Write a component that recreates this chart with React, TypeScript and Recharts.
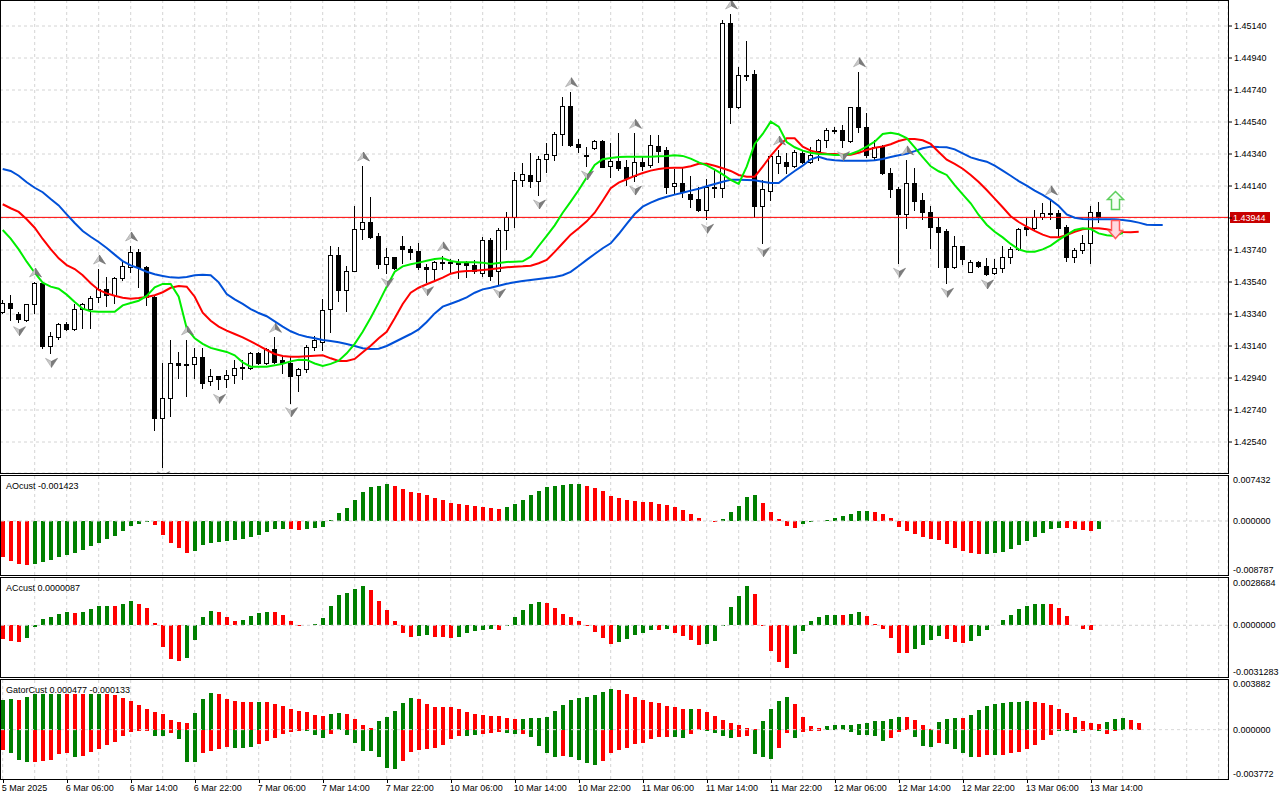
import React from 'react';
import { ComposedChart, Bar, Line, Scatter, XAxis, YAxis, CartesianGrid, ReferenceLine } from 'recharts';

const FONT = '"Liberation Sans", Arial, sans-serif';
const FS = 9;
const GREEN = '#008000';
const RED = '#ff0000';
const GRID = '#d4d4d4';

// hourly candles, one per bar index
const opens = [
  1.43354, 1.43407, 1.4334, 1.43303, 1.43401, 1.43532, 1.43142, 1.43198, 1.43278, 1.43246,
  1.43369, 1.43369, 1.43444, 1.43494, 1.43459, 1.43563, 1.43636, 1.43726, 1.43636, 1.43448,
  1.42692, 1.42813, 1.43032, 1.43026, 1.43026, 1.43073, 1.42921, 1.42954, 1.42932, 1.42959,
  1.43007, 1.43001, 1.43094, 1.43032, 1.43121, 1.43053, 1.43032, 1.42957, 1.42994, 1.43136,
  1.43167, 1.43369, 1.43709, 1.4349, 1.43611, 1.43869, 1.43913, 1.43828, 1.43652, 1.43694,
  1.43765, 1.43744, 1.43732, 1.43632, 1.43619, 1.43665, 1.43663, 1.43663, 1.43657, 1.43646,
  1.43598, 1.43803, 1.43611, 1.43865, 1.43944, 1.44178, 1.44209, 1.44173, 1.44307, 1.44334,
  1.44465, 1.4464, 1.44401, 1.44334, 1.44376, 1.44421, 1.44265, 1.44296, 1.44261, 1.44203,
  1.44288, 1.44271, 1.4439, 1.44365, 1.4414, 1.44161, 1.4409, 1.44059, 1.4399, 1.44136,
  1.44126, 1.45157, 1.44632, 1.44834, 1.4484, 1.44017, 1.44111, 1.44282, 1.4429, 1.44267,
  1.44348, 1.44292, 1.44361, 1.44428, 1.4449, 1.44489, 1.44423, 1.44632, 1.44511, 1.44319,
  1.44386, 1.44219, 1.44119, 1.43965, 1.44161, 1.44053, 1.43978, 1.43882, 1.43859, 1.43632,
  1.43765, 1.43604, 1.43663, 1.4364, 1.43594, 1.43626, 1.43698, 1.43744, 1.43886, 1.43876,
  1.43944, 1.43969, 1.43973, 1.43886, 1.43694, 1.4374, 1.43782, 1.43979,
];
const highs = [
  1.43428, 1.43459, 1.43351, 1.43405, 1.4354, 1.43535, 1.43229, 1.43286, 1.43292, 1.43403,
  1.43411, 1.43453, 1.43621, 1.43573, 1.4357, 1.43678, 1.43765, 1.43744, 1.4364, 1.4345,
  1.43032, 1.43178, 1.43104, 1.43178, 1.43126, 1.43129, 1.42996, 1.42955, 1.4299, 1.43053,
  1.43053, 1.43104, 1.43104, 1.43126, 1.43194, 1.43073, 1.43073, 1.43001, 1.43146, 1.43203,
  1.43432, 1.43765, 1.43761, 1.4364, 1.44017, 1.44265, 1.44073, 1.43844, 1.43751, 1.43698,
  1.43828, 1.43765, 1.43786, 1.43652, 1.43673, 1.43703, 1.43682, 1.43682, 1.43673, 1.43678,
  1.43823, 1.43813, 1.43876, 1.43979, 1.44229, 1.44286, 1.44344, 1.44328, 1.44407, 1.44479,
  1.44694, 1.44729, 1.44432, 1.44382, 1.44425, 1.44425, 1.44407, 1.44469, 1.44303, 1.44469,
  1.44323, 1.44459, 1.44459, 1.44386, 1.44244, 1.44251, 1.44203, 1.44136, 1.44184, 1.4424,
  1.45178, 1.45215, 1.44886, 1.45046, 1.44865, 1.44178, 1.44334, 1.44365, 1.44344, 1.44365,
  1.44361, 1.44386, 1.44432, 1.44501, 1.44511, 1.44521, 1.44636, 1.44854, 1.44594, 1.44428,
  1.44396, 1.44251, 1.44136, 1.44303, 1.44251, 1.44094, 1.44015, 1.4394, 1.43869, 1.43828,
  1.43768, 1.43678, 1.43673, 1.43688, 1.43682, 1.43765, 1.43761, 1.43876, 1.43938, 1.4399,
  1.44032, 1.44053, 1.4399, 1.43896, 1.43751, 1.43834, 1.44015, 1.44042,
];
const lows = [
  1.43346, 1.43303, 1.43292, 1.43298, 1.43348, 1.43126, 1.43094, 1.43186, 1.4324, 1.4324,
  1.43254, 1.43254, 1.43417, 1.43392, 1.43407, 1.43553, 1.43604, 1.43511, 1.43396, 1.42615,
  1.42386, 1.42703, 1.42938, 1.42828, 1.42938, 1.42876, 1.42896, 1.42869, 1.42882, 1.42907,
  1.42932, 1.42999, 1.43028, 1.43028, 1.43032, 1.42969, 1.42786, 1.42861, 1.42979, 1.43115,
  1.43115, 1.43229, 1.43423, 1.43361, 1.43606, 1.43807, 1.43813, 1.43629, 1.43594, 1.43619,
  1.43657, 1.43682, 1.43619, 1.43542, 1.43557, 1.43619, 1.43604, 1.43563, 1.43569, 1.43594,
  1.43578, 1.43553, 1.43528, 1.43744, 1.43886, 1.4414, 1.44136, 1.44084, 1.44229, 1.44303,
  1.44396, 1.4439, 1.44354, 1.44265, 1.4437, 1.44257, 1.44198, 1.4424, 1.44146, 1.44171,
  1.4424, 1.44261, 1.44292, 1.44094, 1.44094, 1.44069, 1.44011, 1.43986, 1.43932, 1.44069,
  1.44073, 1.44532, 1.44626, 1.44803, 1.43944, 1.43786, 1.44053, 1.44219, 1.44219, 1.44261,
  1.44286, 1.44286, 1.44303, 1.44386, 1.44469, 1.44386, 1.44417, 1.44479, 1.44323, 1.44303,
  1.44215, 1.44073, 1.43657, 1.43876, 1.4399, 1.43932, 1.43751, 1.43636, 1.43532, 1.43626,
  1.43651, 1.436, 1.43636, 1.43584, 1.43588, 1.43604, 1.43661, 1.4374, 1.43834, 1.43869,
  1.43932, 1.43932, 1.43819, 1.43673, 1.43667, 1.43723, 1.43661, 1.43917,
];
const closes = [
  1.43411, 1.43376, 1.43309, 1.43403, 1.43532, 1.43142, 1.43202, 1.43278, 1.43246, 1.43369,
  1.43403, 1.43438, 1.43494, 1.43459, 1.43563, 1.4364, 1.43726, 1.43636, 1.43448, 1.42692,
  1.42813, 1.43032, 1.43021, 1.43023, 1.43073, 1.42911, 1.42954, 1.42932, 1.42959, 1.43004,
  1.43003, 1.43094, 1.43032, 1.43121, 1.43042, 1.43032, 1.42953, 1.42994, 1.43136, 1.43178,
  1.43365, 1.43709, 1.4349, 1.43611, 1.43869, 1.43913, 1.43823, 1.43652, 1.43694, 1.43626,
  1.43744, 1.43729, 1.43632, 1.43619, 1.43665, 1.43667, 1.43662, 1.43652, 1.43644, 1.43611,
  1.43803, 1.43578, 1.43865, 1.43944, 1.44178, 1.44213, 1.44173, 1.44307, 1.44338, 1.44465,
  1.4464, 1.44396, 1.44382, 1.44332, 1.44421, 1.44261, 1.44296, 1.44254, 1.44188, 1.44288,
  1.44267, 1.44396, 1.44361, 1.44136, 1.44161, 1.44104, 1.44057, 1.4399, 1.44132, 1.44133,
  1.45157, 1.44632, 1.44832, 1.4483, 1.44017, 1.44119, 1.44328, 1.44328, 1.44267, 1.44351,
  1.44292, 1.44334, 1.44428, 1.4449, 1.44489, 1.44428, 1.44632, 1.44511, 1.44334, 1.44386,
  1.44219, 1.44119, 1.43965, 1.44161, 1.44048, 1.43978, 1.43882, 1.43854, 1.43632, 1.43765,
  1.43682, 1.43663, 1.43642, 1.4359, 1.43626, 1.43698, 1.43744, 1.43869, 1.43869, 1.43948,
  1.43969, 1.43968, 1.43879, 1.43694, 1.4374, 1.43782, 1.43979, 1.43944,
];

// alligator lines as drawn (already shifted forward)
const jaw = [
  1.44246, 1.44234, 1.44204, 1.44163, 1.44129, 1.44101, 1.44059, 1.44019, 1.43963, 1.43909,
  1.43859, 1.43823, 1.4379, 1.43753, 1.43711, 1.43671, 1.43644, 1.43626, 1.43604, 1.43588,
  1.43578, 1.43569, 1.43567, 1.43571, 1.43582, 1.43586, 1.43582, 1.43538, 1.43465, 1.43432,
  1.43403, 1.43371, 1.43346, 1.43326, 1.43294, 1.43261, 1.43232, 1.43211, 1.43198, 1.43188,
  1.43178, 1.43171, 1.43163, 1.43153, 1.4314, 1.43126, 1.43121, 1.43123, 1.4314, 1.43165,
  1.4319, 1.43215, 1.43244, 1.4329, 1.43344, 1.43386, 1.43404, 1.43423, 1.43444, 1.43473,
  1.43494, 1.43504, 1.43517, 1.43529, 1.43538, 1.43546, 1.43553, 1.43559, 1.43565, 1.43571,
  1.43582, 1.43603, 1.4364, 1.43678, 1.43715, 1.43751, 1.43782, 1.4384, 1.43903, 1.43965,
  1.44011, 1.44036, 1.44057, 1.44073, 1.44086, 1.44098, 1.44111, 1.44123, 1.44138, 1.44153,
  1.44167, 1.44179, 1.44179, 1.44178, 1.44176, 1.44167, 1.44159, 1.44159, 1.44198, 1.44234,
  1.44267, 1.44307, 1.44323, 1.44307, 1.44301, 1.44298, 1.44298, 1.44298, 1.44298, 1.44301,
  1.44309, 1.44321, 1.44332, 1.44342, 1.44358, 1.44376, 1.44386, 1.44383, 1.44382, 1.44369,
  1.44344, 1.44319, 1.44304, 1.44292, 1.44267, 1.44236, 1.44204, 1.44171, 1.44142, 1.44111,
  1.44084, 1.44053, 1.44015, 1.43963, 1.43942, 1.43934, 1.43932, 1.43932, 1.43932, 1.43932,
  1.43928, 1.43921, 1.43911, 1.43898, 1.43896, 1.43896,
];
const teeth = [
  1.44026, 1.44001, 1.43978, 1.43932, 1.43879, 1.43809, 1.43746, 1.43688, 1.43646, 1.43621,
  1.43582, 1.43532, 1.4349, 1.43469, 1.43454, 1.43442, 1.43436, 1.4344, 1.43446, 1.43457,
  1.43476, 1.43504, 1.43515, 1.43511, 1.43448, 1.43348, 1.43298, 1.43261, 1.43236, 1.43215,
  1.43194, 1.43169, 1.43142, 1.43115, 1.4309, 1.43078, 1.43073, 1.43073, 1.43076, 1.43079,
  1.43082, 1.43063, 1.43046, 1.43046, 1.43059, 1.43101, 1.43142, 1.43188, 1.43229, 1.43313,
  1.43403, 1.43473, 1.43504, 1.43526, 1.43546, 1.43567, 1.43592, 1.43604, 1.43609, 1.43611,
  1.43615, 1.43619, 1.43626, 1.43632, 1.43636, 1.43638, 1.43642, 1.43657, 1.43678, 1.43728,
  1.43782, 1.43836, 1.43876, 1.43919, 1.43973, 1.44048, 1.44126, 1.44161, 1.44182, 1.44203,
  1.44221, 1.44236, 1.44246, 1.44253, 1.44254, 1.44254, 1.44263, 1.44279, 1.44279, 1.44267,
  1.44251, 1.44234, 1.44209, 1.44198, 1.44198, 1.44261, 1.44329, 1.44386, 1.44438, 1.44438,
  1.44386, 1.44361, 1.44348, 1.44342, 1.4434, 1.44336, 1.44336, 1.44348, 1.44365, 1.44379,
  1.44387, 1.44401, 1.44421, 1.44433, 1.44433, 1.44426, 1.44403, 1.44353, 1.44304, 1.44278,
  1.44248, 1.44209, 1.44165, 1.44115, 1.44061, 1.44007, 1.43951, 1.43915, 1.43886, 1.43859,
  1.43836, 1.43819, 1.43819, 1.43834, 1.43854, 1.43869, 1.43876, 1.43876, 1.43869, 1.43861,
  1.43853, 1.43851, 1.43854,
];
const lips = [
  1.43865, 1.43811, 1.43744, 1.43667, 1.43598, 1.43536, 1.43511, 1.43498, 1.43461, 1.43415,
  1.43373, 1.43357, 1.43354, 1.43354, 1.43354, 1.43394, 1.43409, 1.43423, 1.43453, 1.43507,
  1.43528, 1.43528, 1.43448, 1.43251, 1.43188, 1.43153, 1.43128, 1.43115, 1.43103, 1.43082,
  1.43038, 1.43011, 1.43011, 1.43011, 1.43019, 1.43029, 1.43044, 1.43054, 1.43053, 1.43031,
  1.43015, 1.43028, 1.43048, 1.43094, 1.43153, 1.43229, 1.43317, 1.43411, 1.43511, 1.43604,
  1.43638, 1.43651, 1.43661, 1.43673, 1.43684, 1.43688, 1.43671, 1.43663, 1.43663, 1.43663,
  1.43661, 1.43652, 1.43659, 1.43665, 1.43667, 1.43669, 1.43698, 1.43765, 1.43829, 1.43894,
  1.43973, 1.44042, 1.44115, 1.44194, 1.44271, 1.44307, 1.44315, 1.44321, 1.44323, 1.44323,
  1.44323, 1.44323, 1.44326, 1.44328, 1.44332, 1.44328, 1.44311, 1.44288, 1.44269, 1.44242,
  1.44213, 1.44178, 1.44153, 1.44261, 1.44403, 1.44465, 1.44542, 1.44511, 1.44415, 1.44382,
  1.44361, 1.44348, 1.4434, 1.44338, 1.44334, 1.44334, 1.4434, 1.44359, 1.44386, 1.44417,
  1.44465, 1.44473, 1.44463, 1.4444, 1.44381, 1.44321, 1.44263, 1.44232, 1.44209, 1.44146,
  1.44088, 1.44032, 1.43959, 1.43898, 1.43854, 1.43819, 1.43778, 1.43744, 1.43729, 1.43729,
  1.43744, 1.43767, 1.43803, 1.43834, 1.43865, 1.43876, 1.43871, 1.43844, 1.43832, 1.43828,
  1.43848,
];

// bar indices carrying a fractal
const upFractals = [4, 12, 16, 23, 34, 45, 55, 71, 79, 91, 97, 107, 113, 131];
const downFractals = [2, 6, 20, 27, 36, 48, 53, 62, 67, 73, 79, 88, 95, 105, 112, 118, 123];

// signal arrows after the last candle
const signalBar = 139;
const signalUpPrice = 1.44053;
const signalDownPrice = 1.43871;

// Awesome Oscillator
const aoValues = [
  -0.00651, -0.0073, -0.00784, -0.00802, -0.00772, -0.00736, -0.00712, -0.00657, -0.00609, -0.00585,
  -0.00531, -0.00458, -0.00392, -0.00332, -0.00277, -0.00187, -0.00096, -0.0006, -0.0001, -0.00078,
  -0.00247, -0.00392, -0.00482, -0.00573, -0.00549, -0.00428, -0.00398, -0.00374, -0.00368, -0.0035,
  -0.00332, -0.00283, -0.00247, -0.00193, -0.00151, -0.00145, -0.00151, -0.00169, -0.00145, -0.00133,
  -0.00103, 0.00018, 0.00151, 0.00241, 0.00386, 0.00525, 0.00615, 0.00633, 0.00675, 0.00639,
  0.00585, 0.00525, 0.00506, 0.00476, 0.00422, 0.00386, 0.00326, 0.00308, 0.00295, 0.00271,
  0.00253, 0.00241, 0.00217, 0.00253, 0.00308, 0.00386, 0.0047, 0.00549, 0.00615, 0.00639,
  0.00657, 0.00675, 0.00677, 0.00627, 0.00603, 0.00549, 0.00458, 0.00422, 0.00386, 0.00362,
  0.00344, 0.00338, 0.00314, 0.00295, 0.00259, 0.00205, 0.00133, 0.0006, 0.00005, -0.00024,
  0.00042, 0.00169, 0.00277, 0.0044, 0.00476, 0.00332, 0.00169, 0.00042, -0.00096, -0.00133,
  -0.00048, -0.00024, -0.00006, 0.00018, 0.00054, 0.0009, 0.00127, 0.00181, 0.00187, 0.00163,
  0.00133, 0.0006, -0.001, -0.00175, -0.00235, -0.00283, -0.0032, -0.00338, -0.0041, -0.00482,
  -0.00537, -0.00579, -0.0059, -0.00588, -0.00575, -0.00555, -0.005, -0.00434, -0.00362, -0.00284,
  -0.00217, -0.00145, -0.00127, -0.00133, -0.00145, -0.00157, -0.00181, -0.001423,
];
const aoColors =
  'rrrrgggggg' + 'gggggggggr' + 'rrrrgggggg' + 'ggggggrrgg' + 'gggggggggr' +
  'rrrrrrrrrr' + 'rrrggggggg' + 'gggrrrrrrr' + 'rrrrrrrrrr' + 'gggggrrrrr' +
  'gggggggggr' + 'rrrrrrrrrr' + 'rrrggggggg' + 'gggrrrrg';

// Accelerator Oscillator
const acValues = [
  -0.00092, -0.00104, -0.0011, -0.00083, -0.00009, 0.00043, 0.00056, 0.00077, 0.0009, 0.00083,
  0.00092, 0.0011, 0.0013, 0.00131, 0.00128, 0.00144, 0.00164, 0.00144, 0.00117, 0.00013,
  -0.00146, -0.00225, -0.00241, -0.00218, -0.00097, 0.00054, 0.00097, 0.0009, 0.00056, 0.00029,
  0.00034, 0.00061, 0.00083, 0.0009, 0.00089, 0.0007, 0.00029, -0.00002, 0.00001, 0.00007,
  0.00047, 0.0013, 0.00205, 0.00218, 0.00245, 0.00266, 0.00239, 0.00164, 0.00104, 0.00029,
  -0.0005, -0.00078, -0.00071, -0.00063, -0.00079, -0.0008, -0.00086, -0.00079, -0.00052, -0.00036,
  -0.00029, -0.00023, -0.00032, -0.00005, 0.00056, 0.00104, 0.00144, 0.00158, 0.00151, 0.00117,
  0.00077, 0.00056, 0.00029, -0.00007, -0.00043, -0.00083, -0.00124, -0.0011, -0.0009, -0.00063,
  -0.0005, -0.00029, -0.0003, -0.00023, -0.0005, -0.0007, -0.00097, -0.0013, -0.00129, -0.00104,
  -0.00002, 0.00124, 0.00198, 0.00266, 0.00212, -0.00005, -0.00171, -0.00245, -0.00286, -0.00191,
  -0.00036, 0.00029, 0.00056, 0.00068, 0.0007, 0.00069, 0.00074, 0.00088, 0.00061, 0.00011,
  -0.00025, -0.00086, -0.00189, -0.0019, -0.0016, -0.00133, -0.001, -0.00072, -0.00092, -0.00112,
  -0.00119, -0.00106, -0.00072, -0.00032, 0.00001, 0.00034, 0.00068, 0.00108, 0.00128, 0.00142,
  0.00143, 0.00141, 0.00115, 0.00061, 0.00004, -0.00025, -0.00032, 0.0000087,
];
const acColors =
  'rrrggggggr' + 'ggggrggrrr' + 'rrrggggrrr' + 'ggggrrrrgg' + 'ggggggrrrr' +
  'rrggrrrggg' + 'ggrgggggrr' + 'rrrrrrrggg' + 'ggrgrrrrgg' + 'ggggrrrrrg' +
  'gggggrggrr' + 'rrrrggggrr' + 'rggggggggg' + 'grrrrrrg';

// Gator oscillator, upper and lower histograms
const gatorUp = [
  0.00251, 0.00265, 0.00257, 0.00276, 0.00308, 0.00308, 0.00308, 0.00308, 0.00308, 0.00308,
  0.00308, 0.00308, 0.00308, 0.00308, 0.00296, 0.00274, 0.00248, 0.00214, 0.0018, 0.00154,
  0.00131, 0.00086, 0.00063, 0.0006, 0.0014, 0.00265, 0.00316, 0.00308, 0.00265, 0.00248,
  0.00239, 0.00239, 0.00239, 0.00239, 0.00222, 0.00205, 0.0018, 0.00162, 0.00151, 0.00123,
  0.0012, 0.00131, 0.00145, 0.00131, 0.00094, 0.00043, 0.00017, 0.00077, 0.00111, 0.00162,
  0.00231, 0.00274, 0.00265, 0.00222, 0.00197, 0.00196, 0.00195, 0.0018, 0.00154, 0.00137,
  0.00128, 0.0012, 0.00119, 0.00103, 0.00094, 0.00095, 0.00096, 0.00103, 0.00111, 0.00162,
  0.00214, 0.00257, 0.00274, 0.00282, 0.00299, 0.00325, 0.00351, 0.00342, 0.00308, 0.00282,
  0.00257, 0.00239, 0.00231, 0.00205, 0.00197, 0.0018, 0.00181, 0.00179, 0.00154, 0.0012,
  0.00086, 0.0006, 0.00043, 0.00017, 0.00009, 0.00077, 0.0018, 0.00248, 0.00282, 0.00222,
  0.00111, 0.00034, 0.00017, 0.00034, 0.00043, 0.00043, 0.00043, 0.00051, 0.0006, 0.00077,
  0.00077, 0.00094, 0.00111, 0.0011, 0.00086, 0.00043, 0.00009, 0.00068, 0.00094, 0.00103,
  0.00102, 0.00128, 0.00171, 0.00205, 0.00222, 0.00231, 0.00239, 0.0024, 0.00248, 0.00239,
  0.00231, 0.00214, 0.0018, 0.00145, 0.00111, 0.00077, 0.0006, 0.000477, 0.00068, 0.00094,
  0.00103, 0.00086, 0.0006,
];
const gatorUpColors =
  'ggrgggggrr' + 'rggrrrrrrr' + 'rrrrgggrrr' + 'rrgrrrrrrr' + 'rggrrrrggg' +
  'ggrrrrrrrr' + 'rrrrrggggg' + 'gggggggrrr' + 'rrrrrrgrrr' + 'rrrrrggggr' +
  'rrrggggggg' + 'gggrrrrggg' + 'rggggggggr' + 'rrrrrrrrgg' + 'grr';
const gatorDown = [
  -0.00177, -0.00202, -0.00257, -0.00279, -0.00278, -0.00271, -0.00262, -0.00211, -0.00202, -0.00237,
  -0.00228, -0.00194, -0.00162, -0.00134, -0.00108, -0.00057, -0.00023, -0.00014, -0.00014, -0.00057,
  -0.00057, -0.00031, -0.00083, -0.00279, -0.0028, -0.00202, -0.0018, -0.00162, -0.00151, -0.0016,
  -0.0016, -0.00151, -0.00125, -0.001, -0.00074, -0.0004, -0.00023, -0.00014, -0.00014, -0.00048,
  -0.00074, -0.0004, -0.00006, -0.00048, -0.00117, -0.00185, -0.00185, -0.00237, -0.00331, -0.00339,
  -0.00271, -0.00194, -0.00177, -0.00168, -0.0016, -0.00134, -0.00083, -0.00057, -0.00058, -0.00048,
  -0.0004, -0.00031, -0.00023, -0.00031, -0.0004, -0.00039, -0.00066, -0.00143, -0.00202, -0.00237,
  -0.00228, -0.00237, -0.00262, -0.00288, -0.00305, -0.00271, -0.00202, -0.00177, -0.0016, -0.00125,
  -0.00117, -0.00083, -0.00066, -0.00065, -0.00066, -0.00074, -0.0004, -0.00006, -0.00014, -0.00031,
  -0.00057, -0.00074, -0.00066, -0.00057, -0.00211, -0.00237, -0.00254, -0.0016, -0.00031, -0.00074,
  -0.00023, -0.00014, -0.00014, -0.00006, -0.00006, -0.00006, -0.00023, -0.00048, -0.00048, -0.00057,
  -0.001, -0.00074, -0.00023, -0.00006, -0.00066, -0.00143, -0.00151, -0.00117, -0.00125, -0.00168,
  -0.00202, -0.00237, -0.00236, -0.00219, -0.0022, -0.00219, -0.00202, -0.00194, -0.00168, -0.00134,
  -0.00091, -0.00048, -0.00014, -0.00014, -0.00031, -0.00014, -0.00006, -0.000133, -0.0004, -0.00014,
  -0.00006,
];
const gatorDownColors =
  'rgggrrrrrg' + 'rrrrrrrrrg' + 'grgggrrrrg' + 'ggrrrrrrgg' + 'grrggggggg' +
  'rrrrrrrrgg' + 'rrrggrgggg' + 'rggggrrrrr' + 'rrrrggrrgg' + 'ggrrgggrrg' +
  'rrrrrggggg' + 'grrrgggrgg' + 'ggrrgrrrrr' + 'rrgggrrgrrr';

const priceTicks = [
  1.4254, 1.4274, 1.4294, 1.4314, 1.4334, 1.4354, 1.4374, 1.4394, 1.4414, 1.4434, 1.4454, 1.4474, 1.4494, 1.4514,
];
const aoTicks = [-0.008787, 0, 0.007432];
const acTicks = [-0.0031283, 0, 0.0028684];
const gatorTicks = [-0.003772, 0, 0.003882];
const timeLabels = [
  '5 Mar 2025', '6 Mar 06:00', '6 Mar 14:00', '6 Mar 22:00', '7 Mar 06:00', '7 Mar 14:00',
  '7 Mar 22:00', '10 Mar 06:00', '10 Mar 14:00', '10 Mar 22:00', '11 Mar 06:00', '11 Mar 14:00',
  '11 Mar 22:00', '12 Mar 06:00', '12 Mar 14:00', '12 Mar 22:00', '13 Mar 06:00', '13 Mar 14:00',
];

// axis windows
const X_DOMAIN: [number, number] = [-0.3375, 153.1625];
const PRICE_DOMAIN: [number, number] = [1.4234625, 1.453025];
const AO_DOMAIN: [number, number] = [-0.009763, 0.008136];
const AC_DOMAIN: [number, number] = [-0.003484, 0.003187];
const GATOR_DOMAIN: [number, number] = [-0.004224, 0.00425];

const gridTicks: number[] = [];
for (let k = 0; k <= 152; k += 4) gridTicks.push(k);

const lastIdx = closes.length - 1;
const lastPrice = closes[lastIdx];

const col = (s: string, i: number) => (s[i] === 'g' ? GREEN : RED);

const rows = jaw.map((j, i) => ({
  i,
  range: i < closes.length ? [lows[i], highs[i]] : null,
  open: opens[i],
  close: closes[i],
  jaw: j,
  teeth: teeth[i] ?? null,
  lips: lips[i] ?? null,
  ao: aoValues[i] ?? null,
  aoFill: col(aoColors, i),
  ac: acValues[i] ?? null,
  acFill: col(acColors, i),
  gu: gatorUp[i] ?? null,
  guFill: col(gatorUpColors, i),
  gd: gatorDown[i] ?? null,
  gdFill: col(gatorDownColors, i),
}));

const upFractalData = upFractals.map((i) => ({ i, v: highs[i] }));
const downFractalData = downFractals.map((i) => ({ i, v: lows[i] }));
const signalUpData = [{ i: signalBar, v: signalUpPrice }];
const signalDownData = [{ i: signalBar, v: signalDownPrice }];

const Candle = (p: any) => {
  const { x, width, payload } = p;
  let { y, height } = p;
  if (!payload || !payload.range || !isFinite(y)) return <g />;
  if (height < 0) {
    y += height;
    height = -height;
  }
  const [lo, hi] = payload.range;
  const k = hi > lo ? height / (hi - lo) : 0;
  const yAt = (v: number) => y + (hi - v) * k;
  const cx = Math.round(x + width / 2) + 0.5;
  const yo = yAt(payload.open);
  const yc = yAt(payload.close);
  const top = Math.round(Math.min(yo, yc));
  const bot = Math.round(Math.max(yo, yc));
  const bull = payload.close > payload.open;
  return (
    <g shapeRendering="crispEdges">
      <line x1={cx} x2={cx} y1={Math.round(y)} y2={Math.round(y + height) + 1} stroke="#000" />
      <rect x={cx - 2} y={top + 0.5} width={4} height={Math.max(bot - top, 1)} fill={bull ? '#fff' : '#000'} stroke="#000" />
    </g>
  );
};

const histShape = (fillKey: string) => (p: any) => {
  const { x, width, payload } = p;
  let { y, height } = p;
  if (!payload || height == null || !isFinite(y)) return <g />;
  if (height < 0) {
    y += height;
    height = -height;
  }
  const y0 = Math.round(y);
  const y1 = Math.round(y + height);
  return (
    <rect
      x={Math.round(x + width / 2) - 2}
      y={y0}
      width={4}
      height={Math.max(y1 - y0, 0)}
      fill={payload[fillKey]}
      shapeRendering="crispEdges"
    />
  );
};

const FractalUp = (p: any) => {
  const { cx, cy } = p;
  if (!isFinite(cx) || !isFinite(cy)) return <g />;
  const x = Math.round(cx) + 0.5;
  const y = cy - 9;
  return (
    <g>
      <polygon points={`${x},${y - 5} ${x},${y + 1} ${x - 6},${y + 4}`} fill="#c8c8c8" stroke="#a0a0a0" strokeWidth={0.6} />
      <polygon points={`${x},${y - 5} ${x + 6},${y + 4} ${x},${y + 1}`} fill="#7c7c7c" stroke="#6a6a6a" strokeWidth={0.6} />
    </g>
  );
};

const FractalDown = (p: any) => {
  const { cx, cy } = p;
  if (!isFinite(cx) || !isFinite(cy)) return <g />;
  const x = Math.round(cx) + 0.5;
  const y = cy + 9;
  return (
    <g>
      <polygon points={`${x},${y + 5} ${x},${y - 1} ${x - 6},${y - 4}`} fill="#c8c8c8" stroke="#a0a0a0" strokeWidth={0.6} />
      <polygon points={`${x},${y + 5} ${x + 6},${y - 4} ${x},${y - 1}`} fill="#7c7c7c" stroke="#6a6a6a" strokeWidth={0.6} />
    </g>
  );
};

const SignalUp = (p: any) => {
  const { cx, cy } = p;
  if (!isFinite(cx) || !isFinite(cy)) return <g />;
  const x = Math.round(cx) + 0.5;
  const y = Math.round(cy) + 0.5;
  const pts = [
    [0, -9], [8, -1], [4, -1], [4, 9], [-4, 9], [-4, -1], [-8, -1],
  ].map(([a, b]) => `${x + a},${y + b}`).join(' ');
  return <polygon points={pts} fill="#f4fff4" stroke="#5ccf5c" strokeWidth={1.5} />;
};

const SignalDown = (p: any) => {
  const { cx, cy } = p;
  if (!isFinite(cx) || !isFinite(cy)) return <g />;
  const x = Math.round(cx) + 0.5;
  const y = Math.round(cy) + 0.5;
  const pts = [
    [0, 9], [7, 1], [4, 1], [4, -9], [-4, -9], [-4, 1], [-7, 1],
  ].map(([a, b]) => `${x + a},${y + b}`).join(' ');
  return <polygon points={pts} fill="#ffd9e0" stroke="#ff5a5a" strokeWidth={1.5} />;
};

const PriceTag = (props: any) => {
  const vb = props.viewBox || {};
  const x = (vb.x ?? 0) + (vb.width ?? 0) + 2;
  const y = Math.round(vb.y ?? 0);
  return (
    <g>
      <rect x={x} y={y - 5} width={40} height={11} fill="#c80000" />
      <text x={x + 3} y={y + 3.5} fontSize={FS} fontFamily={FONT} fill="#fff">
        {lastPrice.toFixed(5)}
      </text>
    </g>
  );
};

const PriceTick = (props: any) => {
  const { x, y, payload } = props;
  if (Math.abs(payload.value - lastPrice) < 0.0004) return <g />;
  return (
    <text x={x} y={y} dy="0.35em" fontSize={FS} fontFamily={FONT} fill="#000">
      {Number(payload.value).toFixed(5)}
    </text>
  );
};

const subTick = (digits: number) => (props: any) => (
  <text x={props.x} y={props.y} dy="0.35em" fontSize={FS} fontFamily={FONT} fill="#000">
    {Number(props.payload.value).toFixed(digits)}
  </text>
);

const TimeTick = (props: any) => {
  const { x, y, payload } = props;
  const k = payload.value / 8;
  if (!Number.isInteger(k) || k >= timeLabels.length) return <g />;
  const px = Math.round(x) + 0.5;
  return (
    <g>
      <line x1={px} x2={px} y1={y - 4} y2={y} stroke="#000" shapeRendering="crispEdges" />
      <text x={x - 1} y={y + 8} fontSize={FS} fontFamily={FONT} fill="#000" textAnchor="start">
        {timeLabels[k]}
      </text>
    </g>
  );
};

const NO_MARGIN = { top: 0, right: 0, bottom: 0, left: 0 };

const Frame = ({ top, height }: { top: number; height: number }) => (
  <div
    style={{
      position: 'absolute',
      left: 0,
      top,
      width: 1229,
      height,
      boxSizing: 'border-box',
      border: '1px solid #000',
      pointerEvents: 'none',
    }}
  />
);

const Title = ({ top, text }: { top: number; text: string }) => (
  <div
    style={{
      position: 'absolute',
      left: 6,
      top,
      fontSize: FS,
      lineHeight: '10px',
      fontFamily: FONT,
      color: '#000',
      whiteSpace: 'pre',
    }}
  >
    {text}
  </div>
);

export default function App() {
  return (
    <div
      style={{
        position: 'absolute',
        left: 0,
        top: 0,
        width: 1280,
        height: 800,
        background: '#fff',
        overflow: 'hidden',
        fontFamily: FONT,
      }}
    >
      {/* price window */}
      <div style={{ position: 'absolute', left: 0, top: 0 }}>
        <ComposedChart width={1280} height={473} data={rows} margin={NO_MARGIN}>
          <CartesianGrid stroke={GRID} strokeDasharray="3 3" />
          <XAxis type="number" dataKey="i" domain={X_DOMAIN} ticks={gridTicks} allowDataOverflow hide />
          <YAxis
            orientation="right"
            width={52}
            domain={PRICE_DOMAIN}
            ticks={priceTicks}
            allowDataOverflow
            interval={0}
            tickSize={4}
            tickMargin={2}
            axisLine={false}
            tickLine={{ stroke: '#000' }}
            tick={PriceTick}
          />
          <Bar dataKey="range" barSize={5} shape={Candle} isAnimationActive={false} />
          <ReferenceLine y={lastPrice} stroke={RED} strokeWidth={1} label={<PriceTag />} />
          <Line type="linear" dataKey="jaw" stroke="#0050d8" strokeWidth={2} dot={false} activeDot={false} isAnimationActive={false} />
          <Line type="linear" dataKey="teeth" stroke="#ff0000" strokeWidth={2} dot={false} activeDot={false} isAnimationActive={false} />
          <Line type="linear" dataKey="lips" stroke="#00ee00" strokeWidth={2} dot={false} activeDot={false} isAnimationActive={false} />
          <Scatter data={upFractalData} dataKey="v" shape={FractalUp} isAnimationActive={false} />
          <Scatter data={downFractalData} dataKey="v" shape={FractalDown} isAnimationActive={false} />
          <Scatter data={signalUpData} dataKey="v" shape={SignalUp} isAnimationActive={false} />
          <Scatter data={signalDownData} dataKey="v" shape={SignalDown} isAnimationActive={false} />
        </ComposedChart>
      </div>

      {/* AO window */}
      <div style={{ position: 'absolute', left: 0, top: 476 }}>
        <ComposedChart width={1280} height={99} data={rows} margin={NO_MARGIN}>
          <CartesianGrid stroke={GRID} strokeDasharray="3 3" horizontal={false} />
          <XAxis type="number" dataKey="i" domain={X_DOMAIN} ticks={gridTicks} allowDataOverflow hide />
          <YAxis orientation="right" width={52} domain={AO_DOMAIN} ticks={aoTicks} allowDataOverflow interval={0} axisLine={false} tickLine={false} tickSize={0} tickMargin={5} tick={subTick(6)} />
          <Bar dataKey="ao" barSize={4} shape={histShape('aoFill')} isAnimationActive={false} />
          <ReferenceLine y={0} stroke="#cfcfcf" strokeDasharray="3 3" />
        </ComposedChart>
      </div>

      {/* AC window */}
      <div style={{ position: 'absolute', left: 0, top: 578 }}>
        <ComposedChart width={1280} height={99} data={rows} margin={NO_MARGIN}>
          <CartesianGrid stroke={GRID} strokeDasharray="3 3" horizontal={false} />
          <XAxis type="number" dataKey="i" domain={X_DOMAIN} ticks={gridTicks} allowDataOverflow hide />
          <YAxis orientation="right" width={52} domain={AC_DOMAIN} ticks={acTicks} allowDataOverflow interval={0} axisLine={false} tickLine={false} tickSize={0} tickMargin={5} tick={subTick(7)} />
          <Bar dataKey="ac" barSize={4} shape={histShape('acFill')} isAnimationActive={false} />
          <ReferenceLine y={0} stroke="#cfcfcf" strokeDasharray="3 3" />
        </ComposedChart>
      </div>

      {/* Gator window with the time axis */}
      <div style={{ position: 'absolute', left: 0, top: 680 }}>
        <ComposedChart width={1280} height={120} data={rows} margin={NO_MARGIN} stackOffset="sign">
          <CartesianGrid stroke={GRID} strokeDasharray="3 3" horizontal={false} />
          <XAxis
            type="number"
            dataKey="i"
            domain={X_DOMAIN}
            ticks={gridTicks}
            allowDataOverflow
            interval={0}
            height={21}
            axisLine={false}
            tickLine={false}
            tickSize={4}
            tickMargin={0}
            tick={TimeTick}
          />
          <YAxis orientation="right" width={52} domain={GATOR_DOMAIN} ticks={gatorTicks} allowDataOverflow interval={0} axisLine={false} tickLine={false} tickSize={0} tickMargin={5} tick={subTick(6)} />
          <Bar dataKey="gu" stackId="g" barSize={4} shape={histShape('guFill')} isAnimationActive={false} />
          <Bar dataKey="gd" stackId="g" barSize={4} shape={histShape('gdFill')} isAnimationActive={false} />
          <ReferenceLine y={0} stroke="#d8d8d8" strokeDasharray="3 3" />
        </ComposedChart>
      </div>

      <Frame top={0} height={474} />
      <Frame top={475} height={101} />
      <Frame top={577} height={101} />
      <Frame top={679} height={101} />

      <Title top={481} text={`AOcust ${aoValues[lastIdx].toFixed(6)}`} />
      <Title top={583} text={`ACcust ${acValues[lastIdx].toFixed(7)}`} />
      <Title top={685} text={`GatorCust ${gatorUp[lastIdx].toFixed(6)} ${gatorDown[lastIdx].toFixed(6)}`} />
    </div>
  );
}
